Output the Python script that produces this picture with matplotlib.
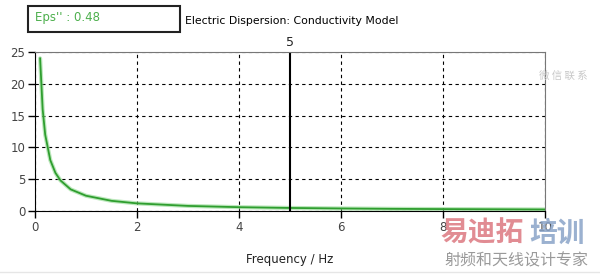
import matplotlib.pyplot as plt

# values
freq = [0.1, 0.15, 0.2, 0.3, 0.4, 0.5, 0.7, 1.0, 1.5, 2.0, 3.0, 4.0, 5.0, 6.0, 7.0, 8.0, 9.0, 10.0]
eps2 = [24, 16, 12, 8, 6, 4.8, 3.4, 2.4, 1.6, 1.2, 0.8, 0.6, 0.48, 0.4, 0.34, 0.3, 0.27, 0.24]
marker_x = 5
marker_val = "0.48"
xticks = [0, 2, 4, 6, 8, 10]
yticks = [0, 5, 10, 15, 20, 25]

cjk = ["Noto Sans CJK SC", "DejaVu Sans"]

fig = plt.figure(figsize=(6, 2.75), dpi=100)
ax = fig.add_axes([35 / 600, 1 - 211 / 275, 510 / 600, 159 / 275])

ax.plot(freq, eps2, color="#8fd88f", lw=3.0, alpha=0.6, solid_capstyle="round")
ax.plot(freq, eps2, color="#2f9e2f", lw=1.3)
ax.axvline(marker_x, color="black", lw=1.5)

ax.set_xlim(0, 10)
ax.set_ylim(0, 25)
ax.set_xticks(xticks)
ax.set_yticks(yticks)
ax.grid(True, color="black", ls=(0, (3, 3)), lw=0.8)
ax.tick_params(direction="out", length=5, width=1, labelsize=8.5,
               labelcolor="#444444", color="black", pad=2)
ax.spines["top"].set_color("#777777")
ax.spines["right"].set_color("#777777")
ax.spines["left"].set_color("black")
ax.spines["bottom"].set_color("black")
ax.set_xlabel("Frequency / Hz", fontsize=8.5, color="#222222", labelpad=14)

ax.text(marker_x, 25.4, str(marker_x), ha="center", va="bottom", fontsize=9, color="#222222")

fig.text(185 / 600, 1 - 21 / 275, "Electric Dispersion: Conductivity Model",
         fontsize=7.8, color="black", va="center")
fig.patches.append(plt.Rectangle((28 / 600, 1 - 32 / 275), 152 / 600, 26 / 275,
                                 transform=fig.transFigure, fill=False,
                                 ec="#222222", lw=1.5))
fig.text(35 / 600, 1 - 18 / 275, "Eps'' : " + marker_val, fontsize=8.5,
         color="#4caf4c", va="center")

# watermark
fig.text(440 / 600, 1 - 234 / 275, "易迪拓", family=cjk, fontsize=20, weight="bold",
         color="#dc7880", alpha=0.85, ha="left", va="center")
fig.text(529 / 600, 1 - 234 / 275, "培训", family=cjk, fontsize=20, weight="bold",
         color="#8aa4c8", alpha=0.85, ha="left", va="center")
fig.text(516 / 600, 1 - 261 / 275, "射频和天线设计专家", family=cjk, fontsize=11.5,
         color="#9a9a9a", ha="center", va="center")
fig.text(563 / 600, 1 - 76 / 275, "微 信 联 系", family=cjk, fontsize=7.5,
         color="#c8c8c8", ha="center", va="center")
fig.add_artist(plt.Line2D([0, 1], [1 - 272 / 275] * 2, color="#e6e6e6", lw=1,
                          transform=fig.transFigure))

fig.savefig("out.png", dpi=100)
